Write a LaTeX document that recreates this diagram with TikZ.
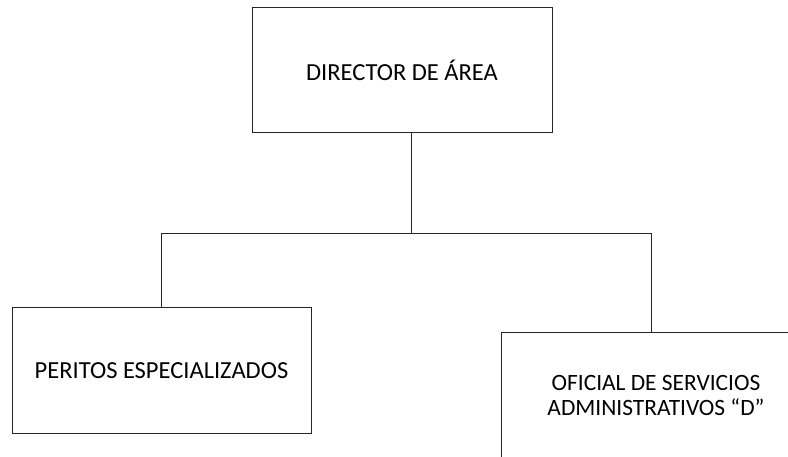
\documentclass[tikz,border=0pt]{standalone}
\usepackage{fontspec}
\setmainfont{Carlito}
\begin{document}
\begin{tikzpicture}[x=1pt,y=-1pt,
  orgbox/.style={draw=black!85,line width=1pt,inner sep=0pt,font=\fontsize{24.5}{30}\selectfont,align=center},
  conn/.style={draw=black!85,line width=1pt}]
\useasboundingbox (0,0) rectangle (788,457);
\clip (0,0) rectangle (788,457);
\node[orgbox,minimum width=300pt,minimum height=125pt] (dir) at (402,70.5) {DIRECTOR DE ÁREA};
\node[orgbox,minimum width=299pt,minimum height=125pt] (per) at (161.5,370.5) {PERITOS ESPECIALIZADOS};
\node[orgbox,minimum width=310pt,minimum height=125pt,font=\fontsize{23.4}{25.5}\selectfont] (ofi) at (656,395.5) {OFICIAL DE SERVICIOS\\ADMINISTRATIVOS “D”};
\coordinate (j) at (411,233.5);
\draw[conn] (dir.south -| j) -- (j);
\draw[conn] (per.north -| 161,0) |- (j) -| (ofi.north -| 651,0);
\end{tikzpicture}
\end{document}
